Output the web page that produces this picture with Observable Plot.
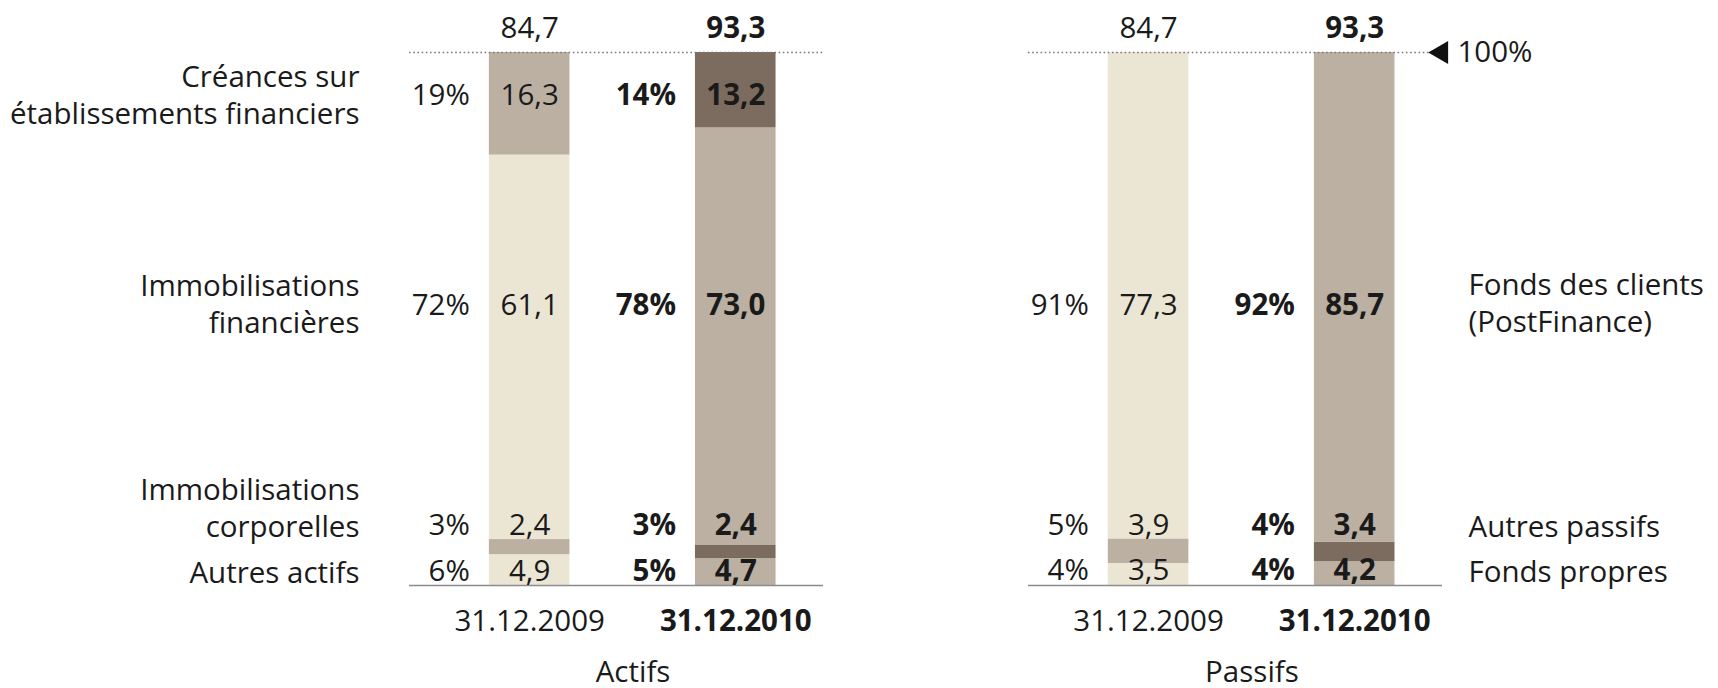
<!DOCTYPE html>
<html>
<head>
<meta charset="utf-8">
<script src="https://cdn.jsdelivr.net/npm/d3@7"></script>
<script src="https://cdn.jsdelivr.net/npm/@observablehq/plot@0.6"></script>
<style>
  html, body { margin: 0; padding: 0; background: #fff; }
  #chart svg { display: block; }
</style>
</head>
<body>
<div id="chart"></div>
<script>
// ---------- data ----------
const sides = ["Actifs", "Passifs"];
const dates = ["31.12.2009", "31.12.2010"];

const actifsCategories = ["Autres actifs", "Immobilisations\ncorporelles", "Immobilisations\nfinancières", "Créances sur\nétablissements financiers"];
const actifs2009 = [4.9, 2.4, 61.1, 16.3];
const actifs2010 = [4.7, 2.4, 73.0, 13.2];
const actifsPct2009 = [6, 3, 72, 19];
const actifsPct2010 = [5, 3, 78, 14];

const passifsCategories = ["Fonds propres", "Autres passifs", "Fonds des clients\n(PostFinance)"];
const passifs2009 = [3.5, 3.9, 77.3];
const passifs2010 = [4.2, 3.4, 85.7];
const passifsPct2009 = [4, 5, 91];
const passifsPct2010 = [4, 4, 92];

const fullMarker = "100%";

// ---------- layout / style ----------
const W = 1718, H = 688;
const mTop = 52, mBottom = 103, mLeft = 409, mRight = 276;
const frameH = H - mTop - mBottom;
const shades = ["#ebe6d4", "#bbb0a2", "#7b6c5f"];
const ink = "#1a1a1a";
const font = "'Open Sans', 'Noto Sans', sans-serif";
const fs = 29.5;
const regular = 400;
// vertical nudges (px, negative = up) of the label rows relative to the segment middles
const rowNudge = {"Autres actifs": 0, "Immobilisations\ncorporelles": -24, "Immobilisations\nfinancières": -36, "Créances sur\nétablissements financiers": -1.5,
                  "Fonds propres": -3.5, "Autres passifs": -26, "Fonds des clients\n(PostFinance)": 9};
const catNudge = {"Immobilisations\ncorporelles": -19, "Immobilisations\nfinancières": -3, "Créances sur\nétablissements financiers": -2, "Fonds des clients\n(PostFinance)": -4};

// ---------- derived table ----------
const segs = [];
function addPanel(side, cats, vals, pcts) {
  vals.forEach((vs, di) => {
    const total = d3.sum(vs);
    let cum = 0;
    vs.forEach((v, ci) => {
      const share = v / total;
      segs.push({side, date: dates[di], di, cat: cats[ci], ci, value: v, pct: pcts[di][ci], mid: cum + share / 2, total});
      cum += share;
    });
  });
}
addPanel("Actifs", actifsCategories, [actifs2009, actifs2010], [actifsPct2009, actifsPct2010]);
addPanel("Passifs", passifsCategories, [passifs2009, passifs2010], [passifsPct2009, passifsPct2010]);
const meanMid = d3.rollup(segs, v => d3.mean(v, d => d.mid), d => d.side, d => d.cat);
segs.forEach(d => {
  d.labelY = meanMid.get(d.side).get(d.cat) - (rowNudge[d.cat] || 0) / frameH;
  d.catY = d.labelY - (catNudge[d.cat] || 0) / frameH;
});
const totals = d3.groups(segs, d => d.side, d => d.date).flatMap(([side, g]) =>
  g.map(([date, v]) => ({side, date, di: v[0].di, total: v[0].total})));
const fmt = v => v.toFixed(1).replace(".", ",");

// geometry of the bars inside a facet (for the percent label offset)
const bandW = 80.6;

const txt = (data, opts) => Plot.text(data, {fontSize: fs, fill: ink, fontFamily: font, ...opts});

const marks = [
  Plot.barY(segs, Plot.stackY({x: "date", y: "value", fx: "side", fill: d => shades[d.di + (d.ci % 2)], offset: "normalize"})),
  Plot.ruleY([0], {stroke: "#8c8c8c", strokeWidth: 1.6}),
  Plot.ruleY([1], {stroke: "#7a7a7a", strokeWidth: 1.6, strokeDasharray: "1.6,2.6"}),
  Plot.dot([{side: "Passifs", y: 1}], {fx: "side", y: "y", frameAnchor: "right", dx: -1, symbol: "triangle", rotate: -90, r: 8.5, fill: "#111", stroke: null}),
  txt([{side: "Passifs", y: 1}], {fx: "side", y: "y", frameAnchor: "right", dx: 15, textAnchor: "start", text: () => fullMarker, fontWeight: regular}),
  txt(sides, {fx: d => d, frameAnchor: "bottom", dy: 96, dx: 16.5, text: d => d, fontWeight: regular}),
  txt(segs.filter(d => d.side === "Actifs" && d.di === 0), {fx: "side", y: "catY", frameAnchor: "left", dx: -50, textAnchor: "end", text: "cat", lineHeight: 1.26, fontWeight: regular}),
  txt(segs.filter(d => d.side === "Passifs" && d.di === 0), {fx: "side", y: "catY", frameAnchor: "right", dx: 26, textAnchor: "start", text: "cat", lineHeight: 1.26, fontWeight: regular})
];
[0, 1].forEach(di => {
  const w = di ? "bold" : regular;
  const ys = segs.filter(d => d.di === di);
  marks.push(
    txt(ys, {fx: "side", x: "date", y: "labelY", text: d => fmt(d.value), fontWeight: w}),
    txt(ys, {fx: "side", x: "date", y: "labelY", dx: -(bandW / 2 + 19.5), textAnchor: "end", text: d => d.pct + "%", fontWeight: w}),
    txt(totals.filter(d => d.di === di), {fx: "side", x: "date", y: () => 1, dy: -24, text: d => fmt(d.total), fontWeight: w}),
    txt(totals.filter(d => d.di === di), {fx: "side", x: "date", frameAnchor: "bottom", dy: 45, text: "date", fontWeight: w})
  );
});

const chart = Plot.plot({
  width: W, height: H,
  marginTop: mTop, marginBottom: mBottom, marginLeft: mLeft, marginRight: mRight,
  style: {fontFamily: font, fontSize: fs + "px", background: "#fff", overflow: "visible"},
  fx: {domain: sides, paddingInner: 0.331, paddingOuter: 0, round: false, axis: null, label: null},
  x: {domain: dates, paddingInner: 0.609, paddingOuter: 0.309, align: 0.627, round: false, axis: null, label: null},
  y: {domain: [0, 1], axis: null, label: null},
  color: {type: "identity"},
  marks
});
document.getElementById("chart").append(chart);
</script>
</body>
</html>
